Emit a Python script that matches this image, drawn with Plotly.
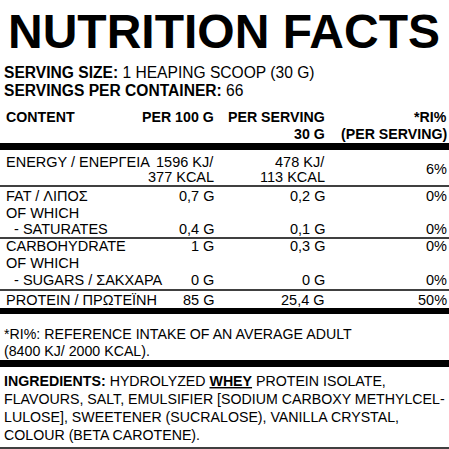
import plotly.graph_objects as go

title = "NUTRITION FACTS"
serving_lines = ["<b>SERVING SIZE:</b> 1 HEAPING SCOOP (30 G)", "<b>SERVINGS PER CONTAINER:</b> 66"]
headers = [["CONTENT", ""], ["PER 100 G", ""], ["PER SERVING", "30 G"], ["*RI%", "(PER SERVING)"]]
labels = ["ENERGY / ΕΝΕΡΓΕΙΑ", "", "FAT / ΛΙΠΟΣ", "OF WHICH", "  - SATURATES",
          "CARBOHYDRATE", "OF WHICH", "  - SUGARS / ΣΑΚΧΑΡΑ", "PROTEIN / ΠΡΩΤΕΪΝΗ"]
per100 = ["1596 KJ/", "377 KCAL", "0,7 G", "", "0,4 G", "1 G", "", "0 G", "85 G"]
perserv = ["478 KJ/", "113 KCAL", "0,2 G", "", "0,1 G", "0,3 G", "", "0 G", "25,4 G"]
ri = ["", "", "0%", "", "0%", "0%", "", "0%", "50%"]
energy_ri = "6%"
footnote = ["*RI%: REFERENCE INTAKE OF AN AVERAGE ADULT", "(8400 KJ/ 2000 KCAL)."]
ingredients = ["<b>INGREDIENTS:</b> HYDROLYZED <b><u>WHEY</u></b> PROTEIN ISOLATE,",
               "FLAVOURS, SALT, EMULSIFIER [SODIUM CARBOXY METHYLCEL-",
               "LULOSE], SWEETENER (SUCRALOSE), VANILLA CRYSTAL,",
               "COLOUR (BETA CAROTENE)."]

F = "Liberation Sans, Arial, sans-serif"
row_y = [162, 177, 196, 213, 229, 246, 263, 280, 300]
col_x = [4, 216, 327, 449]
ann = []
def t(x, y, s, size=14.5, anchor="left", bold=False, font=F):
    ann.append(dict(x=x, y=y, text=(f"<b>{s}</b>" if bold else s), showarrow=False,
                    xanchor=anchor, yanchor="middle", font=dict(size=size, color="black", family=font)))

t(224, 31, title, size=48, anchor="center", bold=True)
t(2, 72, serving_lines[0], size=15.6)
t(2, 90, serving_lines[1], size=15.6)
for i, h in enumerate(headers):
    anc = "left" if i == 0 else "right"
    t(col_x[i], 117, h[0], size=14.2, anchor=anc, bold=True)
    if h[1]:
        t(col_x[i], 134, h[1], size=14.2, anchor=anc, bold=True)
for i, y in enumerate(row_y):
    if labels[i]:
        t(col_x[0], y, labels[i].replace("  ", "&nbsp;&nbsp;"))
    if per100[i]:
        t(col_x[1], y, per100[i], anchor="right")
    if perserv[i]:
        t(col_x[2], y, perserv[i], anchor="right")
    if ri[i]:
        t(col_x[3], y, ri[i], anchor="right")
t(col_x[3], 169, energy_ri, anchor="right")
t(2, 334, footnote[0], size=14.2)
t(2, 351, footnote[1], size=14.2)
for i, s in enumerate(ingredients):
    t(2, 381 + i * 18, s, size=14.2)

shapes = []
def bar(y0, y1):
    shapes.append(dict(type="rect", x0=0, x1=449, y0=y0, y1=y1, fillcolor="black", line_width=0))
bar(143, 150); bar(308, 314); bar(360, 367)
for y in [186, 238, 290, 448]:
    bar(y - 0.7, y + 0.7)

fig = go.Figure()
fig.update_layout(width=449, height=449, margin=dict(l=0, r=0, t=0, b=0),
                  paper_bgcolor="white", plot_bgcolor="white",
                  xaxis=dict(range=[0, 449], visible=False, fixedrange=True),
                  yaxis=dict(range=[449, 0], visible=False, fixedrange=True),
                  annotations=ann, shapes=shapes, showlegend=False)
fig.write_html("out.html", config={"displayModeBar": False},
               post_script="document.body.style.margin='0';document.body.style.overflow='hidden';")
